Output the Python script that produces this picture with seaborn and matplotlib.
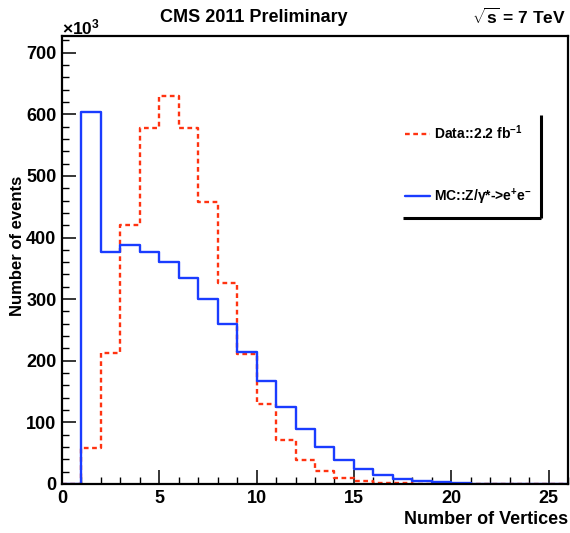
import numpy as np
import pandas as pd
import matplotlib
matplotlib.use("Agg")
import matplotlib.pyplot as plt
import seaborn as sns
from matplotlib.ticker import MultipleLocator

# ---- data (values in thousands of events) ----
edges = list(range(0, 27))
data_vals = [0, 58, 212, 420, 578, 630, 577, 458, 326, 211, 130, 72, 39, 21,
             10, 5, 2.2, 1.0, 0.4, 0.2, 0.1, 0.05, 0.02, 0.01, 0, 0]
mc_vals = [0, 603, 376, 388, 377, 360, 334, 300, 259, 214, 167, 125, 89, 60,
           39, 25, 15, 8.6, 5.4, 3.0, 1.6, 0.8, 0.4, 0.2, 0.1, 0.05]
data_label = "Data::2.2 fb$^{-1}$"
mc_label = r"MC::Z/$\gamma$*->e$^{+}$e$^{-}$"
title = "CMS 2011 Preliminary"
energy = r"$\sqrt{\mathbf{s}}$ = 7 TeV"
xlabel = "Number of Vertices"
ylabel = "Number of events"

sns.set_theme(style="ticks")
plt.rcParams["font.family"] = ["Liberation Sans", "DejaVu Sans"]
plt.rcParams["font.weight"] = "bold"
plt.rcParams["mathtext.fontset"] = "custom"
plt.rcParams["mathtext.rm"] = "Liberation Sans:bold"
plt.rcParams["mathtext.bf"] = "Liberation Sans:bold"
plt.rcParams["mathtext.it"] = "Liberation Sans:bold"
for k in ["text.color", "axes.labelcolor", "xtick.color", "ytick.color",
          "axes.edgecolor"]:
    plt.rcParams[k] = "black"

centers = [e + 0.5 for e in edges[:-1]]
df = pd.DataFrame({"x": centers, "data": data_vals, "mc": mc_vals})

fig = plt.figure(figsize=(5.70, 5.33), dpi=100)
ax = fig.add_axes([62 / 570, 49 / 533, 506 / 570, 448 / 533])

sns.histplot(data=df, x="x", weights="data", bins=edges, element="step",
             fill=False, color="#ff3311", linestyle=(0, (2.0, 1.5)),
             linewidth=1.7, ax=ax)
sns.histplot(data=df, x="x", weights="mc", bins=edges, element="step",
             fill=False, color="#1a3cff", linewidth=1.7, ax=ax)
lines = ax.get_lines()

ax.set_xlim(0, 26)
ax.set_ylim(0, 727)
ax.xaxis.set_major_locator(MultipleLocator(5))
ax.xaxis.set_minor_locator(MultipleLocator(1))
ax.yaxis.set_major_locator(MultipleLocator(100))
ax.yaxis.set_minor_locator(MultipleLocator(20))
ax.tick_params(which="major", direction="in", length=10, width=1.1,
               labelsize=13, pad=4, top=False, right=False, colors="black")
ax.tick_params(which="minor", direction="in", length=5, width=1.0,
               top=False, right=False, colors="black")
for lab in ax.get_xticklabels() + ax.get_yticklabels():
    lab.set_fontweight("bold")
for sp in ax.spines.values():
    sp.set_linewidth(1.6)
    sp.set_color("black")

ax.set_xlabel("")
ax.set_ylabel("")
fig.text(568 / 570, 1 - 520 / 533, xlabel, ha="right", va="center",
         fontsize=13, fontweight="bold")
fig.text(18 / 570, 1 - 246 / 533, ylabel, ha="center", va="center",
         rotation=90, fontsize=12, fontweight="bold")
fig.text(254 / 570, 1 - 17 / 533, title, ha="center", va="center",
         fontsize=13, fontweight="bold")
fig.text(566 / 570, 1 - 17 / 533, energy, ha="right", va="center",
         fontsize=12.5, fontweight="bold")
fig.text(62 / 570, 1 - 27 / 533, r"$\times$10$^{3}$", ha="left",
         va="center", fontsize=12.5, fontweight="bold")

leg = ax.legend(handles=lines[:2], labels=[data_label, mc_label],
                loc="upper left", bbox_to_anchor=(0.678, 0.805),
                frameon=False, fontsize=10, labelspacing=3.2,
                handlelength=1.8, handletextpad=0.3, borderpad=0,
                borderaxespad=0)
for t in leg.get_texts():
    t.set_fontweight("bold")
    t.set_color("black")

# legend shadow (ROOT style)
ax.plot([0.947, 0.947], [0.594, 0.824], transform=ax.transAxes,
        color="black", linewidth=2.2, solid_capstyle="butt", clip_on=False)
ax.plot([0.674, 0.947], [0.594, 0.594], transform=ax.transAxes,
        color="black", linewidth=2.2, solid_capstyle="butt", clip_on=False)

fig.savefig("out.png", dpi=100)
